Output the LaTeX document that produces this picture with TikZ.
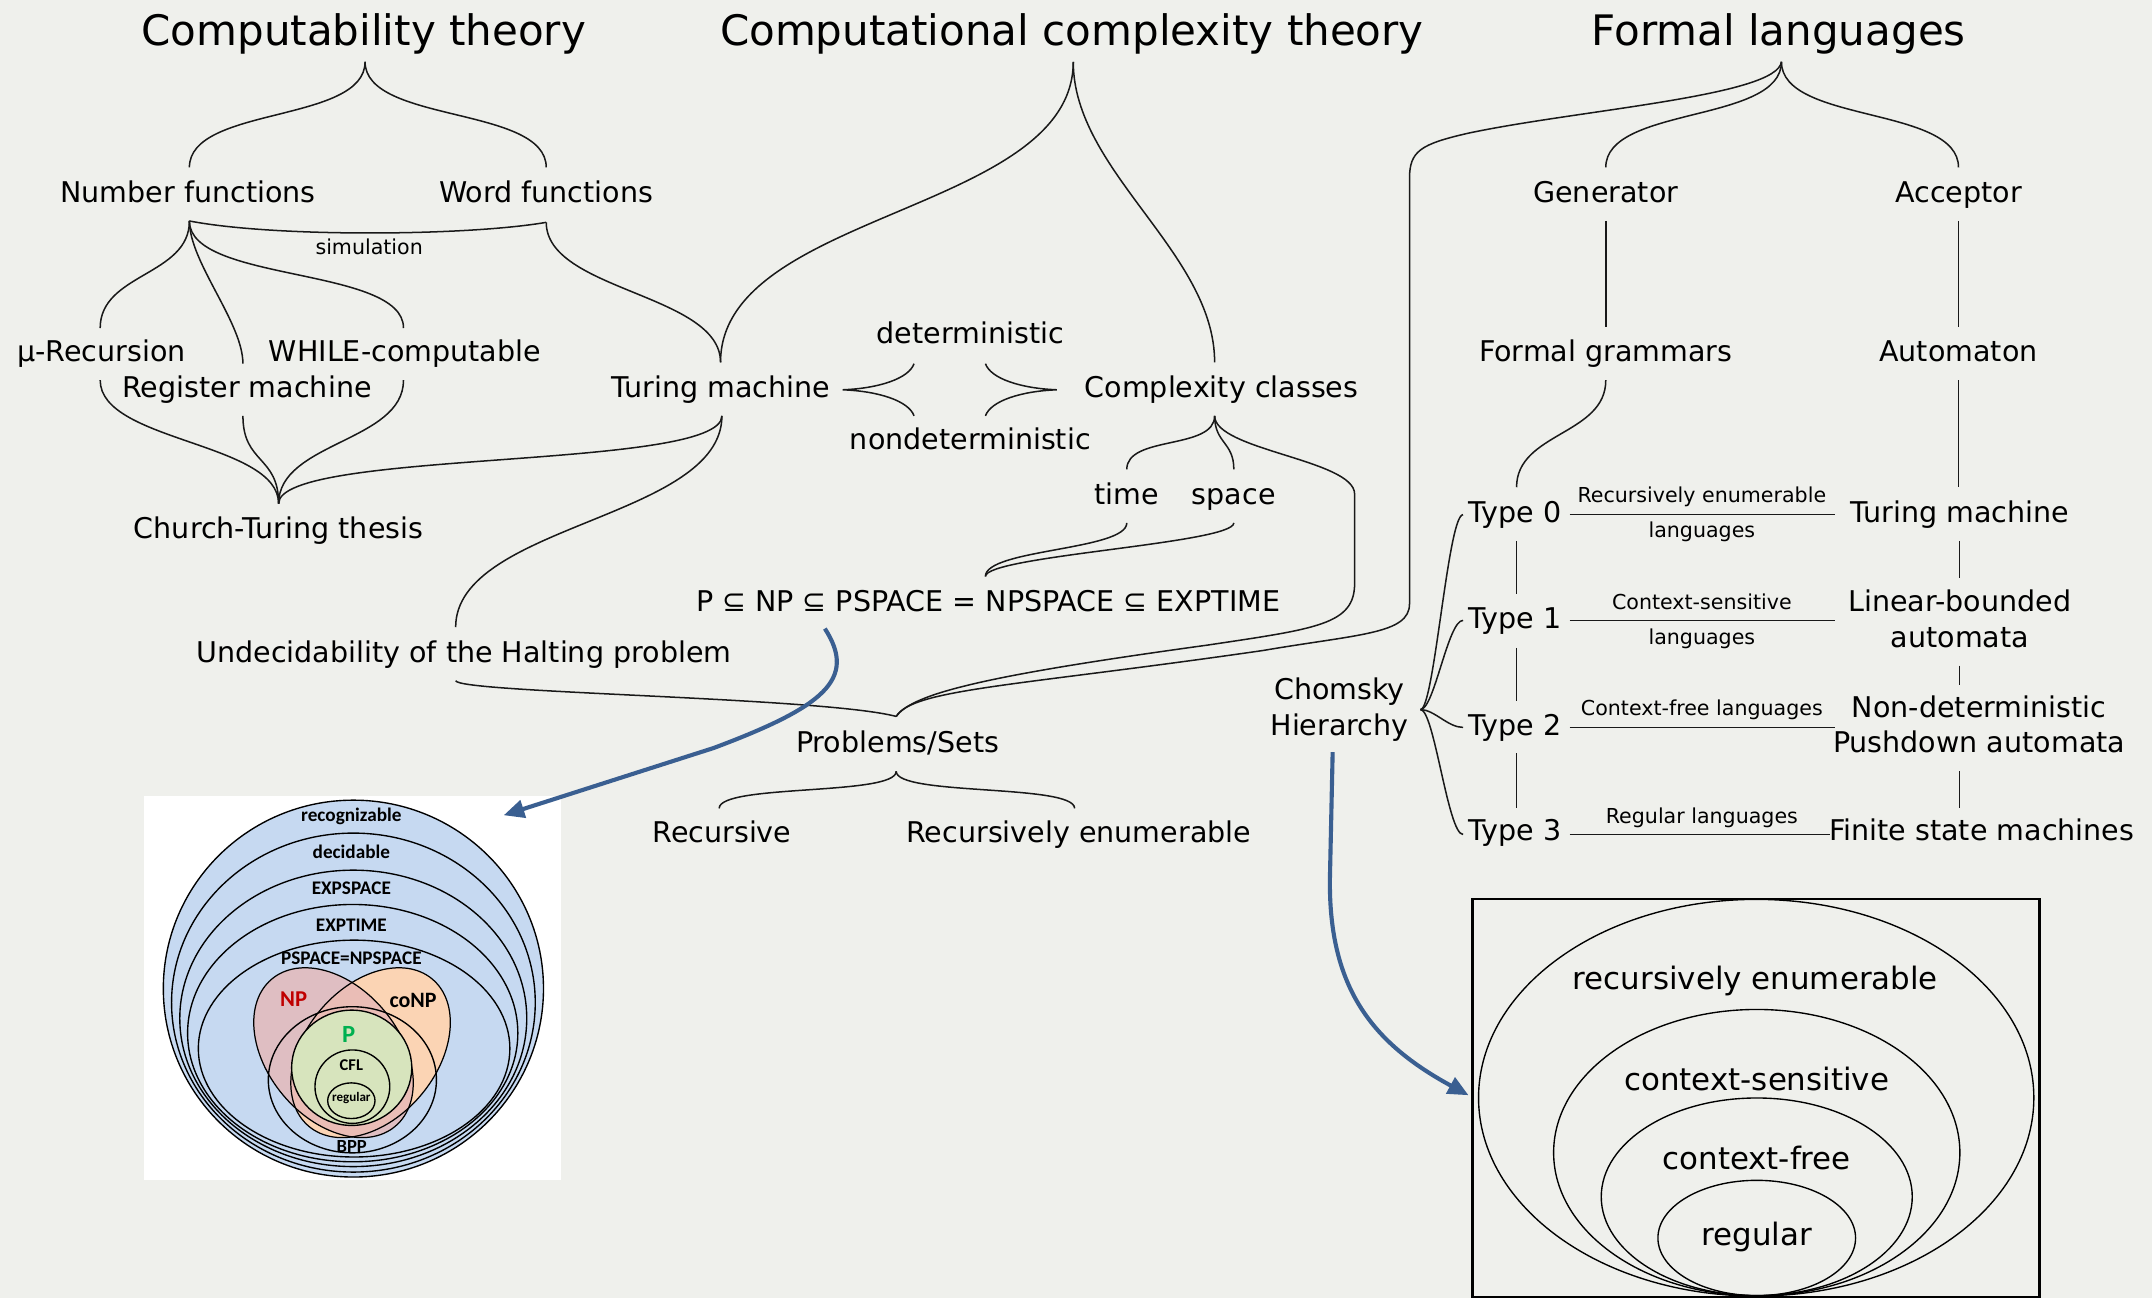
\documentclass[tikz,border=0pt]{standalone}
\usepackage{fontspec}
\setmainfont{DejaVu Sans}
\newfontfamily\calfont{Carlito}
\usetikzlibrary{calc,arrows.meta}
\definecolor{bg}{RGB}{239,240,236}
\definecolor{arrowblue}{RGB}{58,95,145}
\definecolor{vennblue}{RGB}{198,217,241}
\definecolor{npfill}{RGB}{230,184,183}
\definecolor{conpfill}{RGB}{251,212,180}
\definecolor{pfill}{RGB}{215,228,189}
\definecolor{nplabel}{RGB}{192,0,0}
\definecolor{plabel}{RGB}{0,176,80}
\newcommand\vcurve[3]{\draw[ln] (#1) .. controls ($(#1)+(0,#3)$) and ($(#2)-(0,#3)$) .. (#2);}
\begin{document}
\begin{tikzpicture}[x=1pt,y=-1pt,
  ln/.style={line width=1.1pt,black!90},
  lbl/.style={inner sep=0pt,font=\fontsize{20.8}{26}\selectfont,align=center,text height=15.2pt,text depth=0pt},
  ttl/.style={inner sep=0pt,font=\fontsize{30.6}{36}\selectfont,text height=22.3pt,text depth=0pt},
  sml/.style={inner sep=0pt,font=\fontsize{15}{18}\selectfont,text height=10.9pt,text depth=0pt},
  chl/.style={inner sep=0pt,font=\fontsize{22.5}{27}\selectfont,text height=16.4pt,text depth=0pt},
  vl/.style={inner sep=0pt,font=\calfont\bfseries\fontsize{14}{16}\selectfont},
  barrow/.style={line width=3pt,arrowblue,-{Triangle[length=15pt,width=13pt]}},
  vell/.style={line width=1pt,fill=vennblue,draw=black}]
\fill[bg] (0,0) rectangle (1568,946);
\useasboundingbox (0,0) rectangle (1568,946);

% ---------------- Computability theory
\node[ttl] (ct) at (265,22) {Computability theory};
\coordinate (ct-a) at (266,45);
\coordinate (nf-t) at (138,122);
\coordinate (wf-t) at (398,122);
\node[lbl] (nf) at (137,140) {Number functions};
\node[lbl] (wf) at (398,140) {Word functions};
\coordinate (nf-b) at (138,161);
\coordinate (wf-b) at (398,162);
\node[sml] (sim) at (269,180) {simulation};
\coordinate (mu-t) at (73,239);
\coordinate (reg-t) at (177,265);
\coordinate (wh-t) at (294,239);
\coordinate (tm-t) at (525,264);
\node[lbl] (mu) at (74,256) {µ-Recursion};
\node[lbl] (wh) at (295,256) {WHILE-computable};
\node[lbl] (reg) at (180,282) {Register machine};
\node[lbl] (tm) at (525,282) {Turing machine};
\coordinate (mu-b) at (73,277);
\coordinate (reg-b) at (177,303);
\coordinate (wh-b) at (294,277);
\coordinate (tm-b) at (526,303);
\coordinate (cht-a) at (203,367);
\node[lbl] (cht) at (203,385) {Church-Turing thesis};
\coordinate (un-t) at (332,457);
\node[lbl] (un) at (338,475) {Undecidability of the Halting problem};
\coordinate (un-b) at (332,496);

\vcurve{ct-a}{nf-t}{45}
\vcurve{ct-a}{wf-t}{45}
\draw[ln] (nf-b) .. controls (200,173) and (340,172) .. (wf-b);
\vcurve{nf-b}{mu-t}{40}
\vcurve{nf-b}{reg-t}{30}
\vcurve{nf-b}{wh-t}{45}
\vcurve{wf-b}{tm-t}{50}
\vcurve{mu-b}{cht-a}{45}
\vcurve{reg-b}{cht-a}{35}
\vcurve{wh-b}{cht-a}{45}
\vcurve{tm-b}{cht-a}{40}
\vcurve{tm-b}{un-t}{75}

% ---------------- Complexity theory
\node[ttl] (cct) at (781,22) {Computational complexity theory};
\coordinate (cct-a) at (782,45);
\coordinate (cc-t) at (885,264);
\vcurve{cct-a}{tm-t}{110}
\vcurve{cct-a}{cc-t}{80}
\node[lbl] (cc) at (890,282) {Complexity classes};
\node[lbl] (det) at (707,243) {deterministic};
\node[lbl] (nondet) at (707,320) {nondeterministic};
\coordinate (lt) at (614,284); \coordinate (lt-u) at (666,265); \coordinate (lt-d) at (666,303);
\coordinate (rt) at (770,284); \coordinate (rt-u) at (718,265); \coordinate (rt-d) at (718,303);
\draw[ln] (lt-u) .. controls (662,276) and (640,283) .. (lt) .. controls (640,285) and (662,292) .. (lt-d);
\draw[ln] (rt-u) .. controls (722,276) and (744,283) .. (rt) .. controls (744,285) and (722,292) .. (rt-d);
\coordinate (cc-b) at (885,303);
\coordinate (ti-t) at (821,342); \coordinate (sp-t) at (899,342);
\vcurve{cc-b}{ti-t}{25}
\vcurve{cc-b}{sp-t}{20}
\node[lbl] (ti) at (821,360) {time};
\node[lbl] (sp) at (899,360) {space};
\coordinate (ti-b) at (821,381); \coordinate (sp-b) at (899,381);
\coordinate (eq-a) at (718,420);
\vcurve{ti-b}{eq-a}{20}
\vcurve{sp-b}{eq-a}{15}
\node[lbl] (eq) at (720,438) {P ⊆ NP ⊆ PSPACE = NPSPACE ⊆ EXPTIME};
\coordinate (ps-a) at (653,522);
\draw[ln] (cc-b) .. controls (885,328) and (987,335) .. (987,360) -- (987,425)
  .. controls (987,455) and (960,458) .. (880,470) .. controls (720,492) and (665,505) .. (ps-a);
\draw[ln] (un-b) .. controls (335,505) and (600,508) .. (ps-a);
\node[lbl] (ps) at (654,541) {Problems/Sets};
\coordinate (ps-b) at (653,562);
\coordinate (rec-t) at (524,589); \coordinate (re-t) at (783,589);
\vcurve{ps-b}{rec-t}{18}
\vcurve{ps-b}{re-t}{18}
\node[lbl] (rec) at (526,606) {Recursive};
\node[lbl] (re) at (786,606) {Recursively enumerable};

% ---------------- Formal languages
\node[ttl] (fl) at (1296,22) {Formal languages};
\coordinate (fl-a) at (1298,45);
\draw[ln] (fl-a) .. controls (1295,70) and (1150,80) .. (1070,97) .. controls (1035,105) and (1027,110) .. (1027,130)
  -- (1027,440) .. controls (1027,462) and (990,462) .. (920,474) .. controls (740,500) and (665,502) .. (ps-a);
\coordinate (gen-t) at (1170,122); \coordinate (acc-t) at (1427,122);
\vcurve{fl-a}{gen-t}{45}
\vcurve{fl-a}{acc-t}{45}
\node[lbl] (gen) at (1170,140) {Generator};
\node[lbl] (acc) at (1427,140) {Acceptor};
\coordinate (gen-b) at (1170,161); \coordinate (fg-t) at (1170,238);
\coordinate (acc-b) at (1427,161); \coordinate (aut-t) at (1427,238);
\draw[ln] (gen-b) -- (fg-t);
\draw[ln] (acc-b) -- (aut-t);
\node[lbl] (fg) at (1170,256) {Formal grammars};
\node[lbl] (aut) at (1427,256) {Automaton};
\coordinate (fg-b) at (1170,277); \coordinate (t0-t) at (1105,355);
\vcurve{fg-b}{t0-t}{40}
\coordinate (aut-b) at (1427,277); \coordinate (tm2-t) at (1427,355);
\draw[ln] (aut-b) -- (tm2-t);

\node[lbl] (t0) at (1104,373) {Type 0};
\node[lbl] (t1) at (1104,450) {Type 1};
\node[lbl] (t2) at (1104,528) {Type 2};
\node[lbl] (t3) at (1104,605) {Type 3};
\node[lbl] (tm2) at (1428,373) {Turing machine};
\node[lbl] (lba) at (1428,464) {Linear-bounded\\automata};
\node[lbl] (npda) at (1442,541) {Non-deterministic\\Pushdown automata};
\node[lbl] (fsm) at (1444,605) {Finite state machines};
\draw[ln] (1105,394) -- (1105,433);
\draw[ln] (1105,472) -- (1105,511);
\draw[ln] (1105,549) -- (1105,589);
\draw[ln] (1427.6,394) -- (1427.6,421);
\draw[ln] (1427.6,485) -- (1427.6,499);
\draw[ln] (1427.6,562) -- (1427.6,589);
\draw[ln] (1143.7,375) -- (1337,375);
\draw[ln] (1143.7,452) -- (1337,452);
\draw[ln] (1143.7,530) -- (1337,530);
\draw[ln] (1143.7,608) -- (1333,608);
\node[sml] (l0a) at (1240,361) {Recursively enumerable};
\node[sml] (l0b) at (1240,386.5) {languages};
\node[sml] (l1a) at (1240,439) {Context-sensitive};
\node[sml] (l1b) at (1240,464.5) {languages};
\node[sml] (l2a) at (1240,516) {Context-free languages};
\node[sml] (l3a) at (1240,594.5) {Regular languages};

\node[lbl] (ch) at (976,528) {Chomsky\\Hierarchy};
\coordinate (ch-a) at (1035,517);
\coordinate (t0-l) at (1066,375); \coordinate (t1-l) at (1066,452);
\coordinate (t2-l) at (1066,530); \coordinate (t3-l) at (1066,608);
\draw[ln] (ch-a) .. controls (1045,517) and (1055,375) .. (t0-l);
\draw[ln] (ch-a) .. controls (1045,517) and (1055,452) .. (t1-l);
\draw[ln] (ch-a) .. controls (1045,517) and (1055,530) .. (t2-l);
\draw[ln] (ch-a) .. controls (1045,517) and (1055,608) .. (t3-l);

% ---------------- Venn of complexity classes
\fill[white] (105,580) rectangle (409,860);
\draw[vell] (257.5,720.3) ellipse [x radius=138.5, y radius=137.3];
\draw[vell] (257.5,730.5) ellipse [x radius=132.5, y radius=123.5];
\draw[vell] (257.4,742) ellipse [x radius=126.4, y radius=108];
\draw[vell] (257,752.75) ellipse [x radius=120.3, y radius=93.75];
\draw[vell] (258,764) ellipse [x radius=113.5, y radius=79];
\fill[conpfill] (270,767) ellipse [x radius=48, y radius=70, rotate=-40];
\fill[npfill,opacity=0.8] (243,767) ellipse [x radius=48, y radius=70, rotate=40];
\draw[line width=0.9pt] (270,767) ellipse [x radius=48, y radius=70, rotate=-40];
\draw[line width=0.9pt] (243,767) ellipse [x radius=48, y radius=70, rotate=40];
\draw[line width=1pt] (256.75,786.75) ellipse [x radius=61.25, y radius=53.25];
\draw[line width=1pt,fill=pfill] (256.25,778) ellipse [x radius=43.75, y radius=42];
\draw[line width=1pt] (256.75,791.75) ellipse [x radius=27.25, y radius=26.75];
\draw[line width=1pt] (256,802) ellipse [x radius=17.25, y radius=13];
\node[vl] (v1) at (256,595) {recognizable};
\node[vl] (v2) at (256,620.6) {decidable};
\node[vl] (v3) at (256,647) {EXPSPACE};
\node[vl] (v4) at (256,674) {EXPTIME};
\node[vl] (v5) at (256,698) {PSPACE=NPSPACE};
\node[vl,text=nplabel,font=\calfont\bfseries\fontsize{16.5}{18}\selectfont] (vnp) at (214,728) {NP};
\node[vl,font=\calfont\bfseries\fontsize{16}{18}\selectfont] (vconp) at (301,729) {coNP};
\node[vl,text=plabel,font=\calfont\bfseries\fontsize{18}{20}\selectfont] (vp) at (254,754) {P};
\node[vl,font=\calfont\bfseries\fontsize{12}{14}\selectfont] (vcfl) at (256,776) {CFL};
\node[vl,font=\calfont\bfseries\fontsize{9.5}{11}\selectfont] (vreg) at (256,800) {regular};
\node[vl,font=\calfont\bfseries\fontsize{13.5}{15}\selectfont] (vbpp) at (256.3,835.5) {BPP};

% ---------------- Chomsky hierarchy box
\draw[line width=2pt] (1073,655) rectangle (1486,945);
\draw[line width=1pt] (1279.6,799.8) ellipse [x radius=202.3, y radius=144.5];
\draw[line width=1pt] (1280,839.8) ellipse [x radius=148, y radius=104.3];
\draw[line width=1pt] (1280,872) ellipse [x radius=113.3, y radius=72];
\draw[line width=1pt] (1280,902) ellipse [x radius=72, y radius=42];
\node[chl] (c1) at (1279,713) {recursively enumerable};
\node[chl] (c2) at (1280,786.5) {context-sensitive};
\node[chl] (c3) at (1280,844) {context-free};
\node[chl] (c4) at (1280,899) {regular};

% ---------------- blue arrows
\coordinate (b1s) at (601,458); \coordinate (b1e) at (367,594);
\draw[barrow] (b1s) .. controls (625,495) and (600,515) .. (520,545) -- (b1e);
\coordinate (b2s) at (971,548); \coordinate (b2e) at (1070,798);
\draw[barrow] (b2s) -- (969,640) .. controls (968,720) and (1000,760) .. (b2e);
\end{tikzpicture}
\end{document}
